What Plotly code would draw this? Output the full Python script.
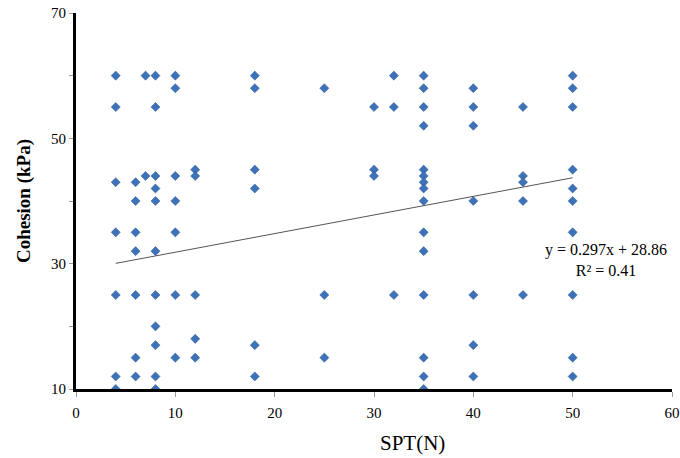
import plotly.graph_objects as go

# SPT(N) values and cohesion (kPa)
spt = [4, 4, 4, 4, 4, 4, 4,
       6, 6, 6, 6, 6, 6, 6,
       7, 7,
       8, 8, 8, 8, 8, 8, 8, 8, 8, 8, 8,
       10, 10, 10, 10, 10, 10, 10,
       12, 12, 12, 12, 12,
       18, 18, 18, 18, 18, 18,
       25, 25, 25,
       30, 30, 30,
       32, 32, 32,
       35, 35, 35, 35, 35, 35, 35, 35, 35, 35, 35, 35, 35, 35, 35,
       40, 40, 40, 40, 40, 40, 40,
       45, 45, 45, 45, 45,
       50, 50, 50, 50, 50, 50, 50, 50, 50, 50]
cohesion = [60, 55, 43, 35, 25, 12, 10,
            43, 40, 35, 32, 25, 15, 12,
            60, 44,
            60, 55, 44, 42, 40, 32, 25, 20, 17, 12, 10,
            60, 58, 44, 40, 35, 25, 15,
            45, 44, 25, 18, 15,
            60, 58, 45, 42, 17, 12,
            58, 25, 15,
            55, 45, 44,
            60, 55, 25,
            60, 58, 55, 52, 45, 44, 43, 42, 40, 35, 32, 25, 15, 12, 10,
            58, 55, 52, 40, 25, 17, 12,
            55, 44, 43, 40, 25,
            60, 58, 55, 45, 42, 40, 35, 25, 15, 12]

# Trend line coefficients as printed on the chart
slope = 0.297
intercept = 28.86
r2 = 0.41

x_ticks = [0, 10, 20, 30, 40, 50, 60]
y_ticks = [10, 20, 30, 40, 50, 60, 70]
y_tick_text = ["10", "", "30", "", "50", "", "70"]

fx = [min(spt), max(spt)]
fy = [slope * v + intercept for v in fx]

serif = "Liberation Serif, Times New Roman, serif"

fig = go.Figure()
fig.add_trace(go.Scatter(
    x=spt, y=cohesion, mode="markers",
    marker=dict(symbol="diamond", size=7, color="#3e72b8",
                line=dict(width=0.5, color="#2f5a94")),
    showlegend=False, hoverinfo="x+y"))
fig.add_trace(go.Scatter(
    x=fx, y=fy, mode="lines",
    line=dict(color="#555555", width=1),
    showlegend=False, hoverinfo="skip"))

fig.add_annotation(
    x=53.4, y=30.6, xref="x", yref="y",
    text=f"y = {slope}x + {intercept}<br>R² = {r2}",
    showarrow=False, align="center", xanchor="center", yanchor="middle",
    font=dict(family=serif, size=16, color="#000000"))

# x-axis title placed as in the reference (offset to the right of centre)
fig.add_annotation(
    x=412, y=443, xref="paper", yref="paper",
    text="SPT(N)", showarrow=False, xanchor="center", yanchor="middle",
    font=dict(family=serif, size=21, color="#000000"))

fig.update_layout(
    width=680, height=458,
    margin=dict(l=76, r=8, t=13, b=69),
    paper_bgcolor="white", plot_bgcolor="white",
    font=dict(family=serif, size=15, color="#000000"),
    xaxis=dict(
        range=[0, 60], tickvals=x_ticks, ticktext=[str(v) for v in x_ticks],
        showgrid=False, zeroline=False, automargin=False,
        showline=True, linecolor="#000000", linewidth=3,
        ticks="outside", ticklen=5, tickcolor="#999999", tickwidth=1,
        tickfont=dict(family=serif, size=15), ticklabelstandoff=3),
    yaxis=dict(
        range=[10, 70], tickvals=y_ticks, ticktext=y_tick_text,
        showgrid=False, zeroline=False, automargin=False,
        showline=True, linecolor="#000000", linewidth=3,
        ticks="outside", ticklen=4, tickcolor="#999999", tickwidth=1,
        tickfont=dict(family=serif, size=15),
        title=dict(text="<b>Cohesion (kPa)</b>", font=dict(family=serif, size=19), standoff=16)),
)

# convert paper-pixel coordinates of the x title annotation to paper fractions
pw = 680 - 76 - 8
ph = 458 - 13 - 69
ann = fig.layout.annotations[1]
ann.x = (ann.x - 76) / pw
ann.y = (458 - 69 - ann.y) / ph

fig.write_html("out.html")
